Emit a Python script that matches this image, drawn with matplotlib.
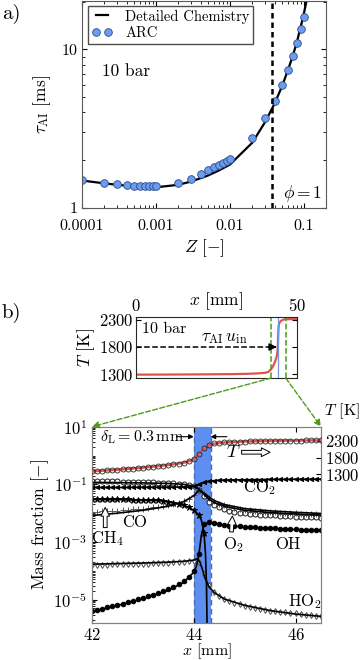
import numpy as np
import matplotlib
matplotlib.use("Agg")
import matplotlib.pyplot as plt
from matplotlib.patches import ConnectionPatch
from matplotlib.ticker import FixedLocator, NullFormatter, LogLocator

plt.rcParams["font.family"] = "serif"
plt.rcParams["font.serif"] = ["cmr10"]
plt.rcParams["mathtext.fontset"] = "cm"
plt.rcParams["axes.formatter.use_mathtext"] = True
plt.rcParams["axes.unicode_minus"] = False
plt.rcParams["font.size"] = 11.5
plt.rcParams["xtick.direction"] = "in"
plt.rcParams["ytick.direction"] = "in"

# ---- panel a: ignition delay vs mixture fraction ----
z_det = [1e-4, 2e-4, 3e-4, 5e-4, 1e-3, 2e-3, 3e-3, 5e-3, 7e-3, 1e-2,
         2e-2, 3e-2, 4e-2, 5e-2, 6e-2, 7e-2, 8e-2, 9e-2, 0.1, 0.11]
tau_det = [1.49, 1.43, 1.40, 1.37, 1.35, 1.40, 1.47, 1.60, 1.72, 1.88,
           2.58, 3.50, 4.55, 5.80, 7.30, 9.00, 11.1, 13.8, 17.0, 21.0]
z_arc = [1e-4, 2e-4, 3e-4, 4e-4, 5e-4, 6e-4, 7e-4, 8e-4, 9e-4, 1e-3,
         2e-3, 3e-3, 4e-3, 5e-3, 6e-3, 7e-3, 8e-3, 9e-3, 1e-2,
         2e-2, 3e-2, 4e-2, 5e-2, 6e-2, 7e-2, 8e-2, 9e-2, 0.1]
tau_arc = [1.50, 1.44, 1.42, 1.40, 1.38, 1.38, 1.38, 1.38, 1.38, 1.38,
           1.44, 1.52, 1.64, 1.73, 1.81, 1.86, 1.92, 1.98, 2.03,
           2.76, 3.68, 4.71, 5.94, 7.38, 9.03, 10.9, 13.4, 15.9]
z_st = 0.037

# ---- panel b (top): temperature over whole domain ----
x_full = [0, 10, 20, 30, 35, 38, 40, 41, 42, 42.5, 43, 43.5, 43.8, 44.0,
          44.1, 44.2, 44.3, 44.5, 45, 46, 50]
T_full = [1288, 1290, 1293, 1298, 1304, 1312, 1322, 1335, 1390, 1440, 1500,
          1580, 1650, 1760, 1900, 2080, 2180, 2245, 2284, 2312, 2320]
x_ign = 43.7
x_flame = 44.2
zoom_lo, zoom_hi = 42.0, 46.5
band_lo, band_hi = 44.0, 44.33

# ---- panel b (bottom): detailed chemistry lines (log10 mass fraction) ----
x_det = [42.0, 42.5, 43.0, 43.5, 43.8, 44.0, 44.1, 44.2, 44.3, 44.4, 44.6,
         45.0, 45.5, 46.0, 46.5]
co_det = [-2.08, -2.0, -1.9, -1.76, -1.6, -1.4, -1.2, -1.3, -1.44, -1.56,
          -1.7, -1.84, -1.92, -1.97, -2.01]
o2_det = [-0.93, -0.94, -0.95, -0.97, -1.0, -1.06, -1.15, -1.35, -1.52,
          -1.63, -1.76, -1.9, -1.98, -2.03, -2.07]
co2_det = [-1.11, -1.11, -1.1, -1.1, -1.09, -1.07, -1.02, -0.94, -0.89,
           -0.87, -0.85, -0.84, -0.83, -0.825, -0.82]
x_ch4_det = [42.0, 42.5, 43.0, 43.3, 43.5, 43.7, 43.9, 44.0, 44.1, 44.15,
             44.2, 44.23, 44.25, 44.27]
ch4_det = [-1.52, -1.53, -1.54, -1.56, -1.6, -1.67, -1.8, -1.9, -2.06,
           -2.25, -2.65, -3.4, -4.5, -7.0]
x_oh_det = [42.0, 42.5, 43.0, 43.5, 43.8, 44.0, 44.05, 44.1, 44.15, 44.2,
            44.3, 44.4, 44.6, 45.0, 45.5, 46.0, 46.5]
oh_det = [-5.42, -5.2, -4.97, -4.68, -4.4, -4.05, -3.85, -3.45, -2.75, -2.4,
          -2.33, -2.36, -2.42, -2.48, -2.53, -2.57, -2.6]
x_ho2_det = [42.0, 42.5, 43.0, 43.5, 43.8, 44.0, 44.07, 44.12, 44.17, 44.22,
             44.3, 44.4, 44.6, 45.0, 45.5, 46.0, 46.5]
ho2_det = [-3.77, -3.75, -3.73, -3.70, -3.67, -3.63, -3.58, -3.7, -3.95,
           -4.25, -4.55, -4.75, -4.98, -5.2, -5.38, -5.5, -5.58]
x_T_det = [42.0, 42.5, 43.0, 43.5, 43.8, 43.95, 44.05, 44.12, 44.2, 44.3,
           44.4, 44.6, 45.0, 45.5, 46.0, 46.5]
T_det = [1390, 1440, 1500, 1580, 1650, 1715, 1820, 1940, 2070, 2170, 2220,
         2255, 2284, 2302, 2312, 2320]

# ---- ARC samples ----
x_arc = [42.0, 42.1, 42.2, 42.3, 42.4, 42.5, 42.6, 42.7, 42.8, 42.9,
         43.0, 43.1, 43.2, 43.3, 43.4, 43.5, 43.6, 43.7, 43.8, 43.9,
         44.0, 44.1, 44.2, 44.3, 44.4, 44.5, 44.6, 44.7, 44.8, 44.9,
         45.0, 45.1, 45.2, 45.3, 45.4, 45.5, 45.6, 45.7, 45.8, 45.9,
         46.0, 46.1, 46.2, 46.3, 46.4, 46.5]
T_arc = [1390, 1400, 1410, 1420, 1430, 1440, 1450, 1462, 1474, 1487,
         1500, 1515, 1530, 1545, 1562, 1580, 1600, 1622, 1648, 1690,
         1760, 1900, 2080, 2180, 2225, 2245, 2258, 2266, 2273, 2279,
         2284, 2288, 2292, 2296, 2299, 2302, 2304, 2306, 2308, 2310,
         2312, 2314, 2316, 2318, 2319, 2320]
o2_arc = [-0.89, -0.89, -0.89, -0.90, -0.90, -0.90, -0.91, -0.91, -0.91, -0.92,
          -0.92, -0.93, -0.93, -0.94, -0.95, -0.96, -0.97, -0.98, -1.00, -1.03,
          -1.07, -1.20, -1.42, -1.60, -1.72, -1.80, -1.86, -1.91, -1.95, -1.98,
          -2.00, -2.02, -2.04, -2.05, -2.06, -2.07, -2.08, -2.09, -2.10, -2.11,
          -2.12, -2.13, -2.14, -2.14, -2.15, -2.16]
co2_arc = [-1.10, -1.10, -1.10, -1.10, -1.10, -1.10, -1.10, -1.09, -1.09, -1.09,
           -1.09, -1.09, -1.09, -1.09, -1.09, -1.08, -1.08, -1.08, -1.08, -1.08,
           -1.06, -1.00, -0.93, -0.89, -0.87, -0.86, -0.855, -0.85, -0.85, -0.845,
           -0.84, -0.84, -0.84, -0.835, -0.835, -0.83, -0.83, -0.83, -0.83, -0.825,
           -0.825, -0.825, -0.82, -0.82, -0.82, -0.82]
co_arc = [-1.96, -1.95, -1.94, -1.93, -1.92, -1.91, -1.90, -1.88, -1.87, -1.86,
          -1.84, -1.82, -1.80, -1.78, -1.76, -1.73, -1.69, -1.64, -1.58, -1.50,
          -1.38, -1.22, -1.32, -1.47, -1.59, -1.67, -1.73, -1.78, -1.82, -1.85,
          -1.88, -1.90, -1.92, -1.94, -1.95, -1.96, -1.97, -1.98, -1.99, -2.00,
          -2.01, -2.02, -2.02, -2.03, -2.03, -2.04]
ch4_arc = [-1.50, -1.50, -1.50, -1.51, -1.51, -1.51, -1.52, -1.52, -1.53, -1.53,
           -1.54, -1.54, -1.55, -1.56, -1.58, -1.60, -1.63, -1.67, -1.72, -1.79,
           -1.88, -2.05, -2.70]
oh_arc = [-5.40, -5.36, -5.31, -5.27, -5.23, -5.18, -5.14, -5.09, -5.04, -4.99,
          -4.94, -4.89, -4.83, -4.77, -4.71, -4.64, -4.56, -4.47, -4.37, -4.22,
          -4.02, -3.40, -2.38, -2.32, -2.35, -2.38, -2.41, -2.43, -2.45, -2.46,
          -2.47, -2.48, -2.49, -2.50, -2.51, -2.52, -2.53, -2.54, -2.55, -2.55,
          -2.56, -2.57, -2.58, -2.58, -2.59, -2.60]
ho2_arc = [-3.80, -3.80, -3.79, -3.79, -3.78, -3.78, -3.77, -3.77, -3.76, -3.76,
           -3.75, -3.75, -3.74, -3.73, -3.73, -3.72, -3.71, -3.70, -3.69, -3.67,
           -3.66, -3.68, -4.10, -4.50, -4.75, -4.88, -4.98, -5.05, -5.11, -5.16,
           -5.21, -5.25, -5.29, -5.32, -5.35, -5.38, -5.40, -5.42, -5.44, -5.46,
           -5.48, -5.50, -5.52, -5.54, -5.56, -5.58]

red = "#e0534a"
blue_pt = "#6b9cf0"
green = "#4e9a1c"
band_c = "#5e8ff0"

fig = plt.figure(figsize=(3.6, 6.6), dpi=100)

# ================= panel a =================
ax_a = fig.add_axes([82 / 360, 1 - 208 / 660, 244 / 360, 207.5 / 660])
ax_a.plot(z_det, tau_det, color="k", lw=1.6, label="Detailed Chemistry")
ax_a.plot(z_arc, tau_arc, "o", ms=5.5, mfc=blue_pt, mec="#2b4c8c", mew=0.6,
          label="ARC")
ax_a.axvline(z_st, color="k", ls=(0, (2.2, 1.6)), lw=1.8)
ax_a.set_xscale("log")
ax_a.set_yscale("log")
ax_a.set_xlim(1e-4, 0.198)
ax_a.set_ylim(1, 20.3)
ax_a.xaxis.set_major_locator(FixedLocator([1e-4, 1e-3, 1e-2, 1e-1]))
ax_a.set_xticklabels(["0.0001", "0.001", "0.01", "0.1"])
ax_a.yaxis.set_major_locator(FixedLocator([1, 10]))
ax_a.set_yticklabels(["1", "10"])
ax_a.yaxis.set_minor_formatter(NullFormatter())
ax_a.xaxis.set_minor_formatter(NullFormatter())
ax_a.tick_params(which="both", top=True, right=True, labelsize=11.5)
ax_a.tick_params(axis="x", pad=8)
ax_a.set_xlabel(r"$Z$ [$-$]", fontsize=12.5, labelpad=3)
ax_a.set_ylabel(r"$\tau_{\rm AI}$ [ms]", fontsize=12.5, labelpad=6)
for s in ax_a.spines.values():
    s.set_color("0.35")
ax_a.text(1.87e-4, 7.3, "10 bar", fontsize=12.5, va="center")
ax_a.text(0.052, 1.24, r"$\phi = 1$", fontsize=12.5, va="center")
leg = ax_a.legend(loc="upper left", bbox_to_anchor=(0.025, 0.975),
                  borderaxespad=0, numpoints=2, fancybox=False,
                  edgecolor="0.3", framealpha=1, fontsize=10.5,
                  handlelength=1.4, handletextpad=0.9, borderpad=0.25,
                  labelspacing=0.2)
leg.get_frame().set_linewidth(1.0)

# ================= panel b top =================
ax_b1 = fig.add_axes([136 / 360, 1 - 378 / 660, 161 / 360, 61.3 / 660])
ax_b1.plot(x_full, T_full, color=red, lw=1.6)
ax_b1.axvline(zoom_lo, color=green, ls="--", lw=1.1)
ax_b1.axvline(zoom_hi, color=green, ls="--", lw=1.1)
ax_b1.axvline(x_flame, color="#6f9be8", lw=0.9)
ax_b1.plot([0, x_ign - 1.2], [1800, 1800], color="k", ls="--", lw=1.1)
ax_b1.annotate("", xy=(x_ign, 1800), xytext=(x_ign - 1.5, 1800),
               arrowprops=dict(arrowstyle="-|>", color="k", lw=1.0,
                               mutation_scale=11))
ax_b1.text(27.5, 1960, r"$\tau_{\rm AI}\,u_{\rm in}$", fontsize=12.5,
           ha="center", va="center")
ax_b1.text(2.0, 2130, "10 bar", fontsize=11.5, va="center")
ax_b1.set_xlim(0, 50)
ax_b1.set_ylim(1226, 2361)
ax_b1.xaxis.tick_top()
ax_b1.xaxis.set_label_position("top")
ax_b1.set_xticks([0, 50])
ax_b1.set_yticks([1300, 1800, 2300])
ax_b1.tick_params(labelsize=12, right=True, pad=2)
ax_b1.set_xlabel(r"$x$ [mm]", fontsize=12.5, labelpad=-6)
ax_b1.set_ylabel(r"$T$ [K]", fontsize=12.5, labelpad=1)
for s in ax_b1.spines.values():
    s.set_color("0.15")

# ================= panel b bottom =================
ax_b2 = fig.add_axes([92 / 360, 1 - 622.7 / 660, 229 / 360, 196 / 660])
ax_b2.axvspan(band_lo, band_hi, color=band_c, lw=0, zorder=0)
for xb in (band_lo, band_hi):
    ax_b2.axvline(xb, color="#4d6aa8", ls=(0, (4, 2.5)), lw=1.0, zorder=0.5)

mk = dict(lw=0, mew=0.7)
ax_b2.plot(x_det, 10 ** np.array(o2_det), color="k", lw=1.2, zorder=3)
ax_b2.plot(x_arc, 10 ** np.array(o2_arc), "o", ms=3.6, mfc="white", mec="0.1",
           zorder=2, **mk)
ax_b2.plot(x_det, 10 ** np.array(co2_det), color="k", lw=1.2, zorder=3)
ax_b2.plot(x_arc, 10 ** np.array(co2_arc), "<", ms=3.0, color="k", zorder=2, **mk)
ax_b2.plot(x_det, 10 ** np.array(co_det), color="k", lw=1.2, zorder=3)
ax_b2.plot(x_arc, 10 ** np.array(co_arc), "+", ms=4.5, color="0.35", zorder=2,
           **mk)
ax_b2.plot(x_ch4_det, 10 ** np.array(ch4_det), color="k", lw=1.2, zorder=3)
ax_b2.plot(x_arc[:len(ch4_arc)], 10 ** np.array(ch4_arc), "*", ms=4.5, color="k",
           zorder=2, **mk)
ax_b2.plot(x_oh_det, 10 ** np.array(oh_det), color="k", lw=1.2, zorder=3)
ax_b2.plot(x_arc, 10 ** np.array(oh_arc), "o", ms=3.3, color="k", zorder=2, **mk)
ax_b2.plot(x_ho2_det, 10 ** np.array(ho2_det), color="k", lw=1.2, zorder=3)
ax_b2.plot(x_arc, 10 ** np.array(ho2_arc), "d", ms=3.0, mfc="white", mec="0.3",
           zorder=2, **mk)

ax_b2.set_xlim(zoom_lo, zoom_hi)
ax_b2.set_yscale("log")
ax_b2.set_ylim(10 ** -5.8, 10)
ax_b2.yaxis.set_major_locator(FixedLocator([1e1, 1e-1, 1e-3, 1e-5]))
ax_b2.yaxis.set_minor_locator(LogLocator(base=10, subs=np.arange(1, 10),
                                         numticks=30))
ax_b2.yaxis.set_minor_formatter(NullFormatter())
ax_b2.set_xticks([42, 44, 46])
ax_b2.tick_params(which="both", top=True, labelsize=12)
ax_b2.tick_params(axis="x", pad=3)
ax_b2.set_xlabel(r"$x$ [mm]", fontsize=11.5, labelpad=-1)
ax_b2.set_ylabel("Mass fraction [$-$]", fontsize=12.5, labelpad=2)
for s in ax_b2.spines.values():
    s.set_color("0.5")

# temperature on the right axis
ax_t = ax_b2.twinx()
ax_t.plot(x_T_det, T_det, color=red, lw=1.8, zorder=3)
ax_t.plot(x_arc, T_arc, "o", ms=3.6, mfc="none", mec="0.15", mew=0.6, zorder=4)
ax_t.set_ylim(-3143, 2728)
ax_t.set_yticks([1300, 1800, 2300])
ax_t.tick_params(labelsize=12, direction="in", pad=3)
for s in ax_t.spines.values():
    s.set_color("0.5")
ax_t.text(1.012, 1.03, r"$T$ [K]", transform=ax_t.transAxes, fontsize=11.5,
          ha="left", va="bottom")

# annotations in the zoomed panel
ax_b2.text(42.15, 4.5, r"$\delta_{\rm L} = 0.3\,{\rm mm}$", fontsize=11.5,
           va="center", ha="left", zorder=5)
ax_b2.annotate("", xy=(band_lo, 4.5), xytext=(43.66, 4.5),
               arrowprops=dict(arrowstyle="-|>", color="k", lw=0.8,
                               mutation_scale=7, shrinkA=0, shrinkB=0))
ax_b2.annotate("", xy=(band_hi, 4.5), xytext=(44.65, 4.5),
               arrowprops=dict(arrowstyle="-|>", color="k", lw=0.8,
                               mutation_scale=7, shrinkA=0, shrinkB=0))
hollow = dict(arrowstyle="simple,head_length=0.7,head_width=0.7,tail_width=0.3",
              fc="white", ec="k", lw=0.7, mutation_scale=9, shrinkA=0, shrinkB=0)
ax_b2.text(44.78, 1.3, r"$T$", fontsize=13, ha="center", va="center")
ax_b2.annotate("", xy=(45.5, 1.3), xytext=(44.94, 1.3), arrowprops=hollow)
ax_b2.text(45.3, 10 ** -1.1, r"CO$_2$", fontsize=12, ha="center", va="center")
ax_b2.text(42.84, 10 ** -2.33, "CO", fontsize=12, ha="center", va="center")
ax_b2.text(42.3, 10 ** -2.88, r"CH$_4$", fontsize=12, ha="center", va="center")
ax_b2.annotate("", xy=(42.26, 10 ** -1.8), xytext=(42.26, 10 ** -2.5),
               arrowprops=hollow)
ax_b2.text(44.78, 10 ** -3.1, r"O$_2$", fontsize=12, ha="center", va="center")
ax_b2.annotate("", xy=(44.76, 10 ** -2.1), xytext=(44.74, 10 ** -2.65),
               arrowprops=hollow)
ax_b2.text(45.84, 10 ** -3.07, "OH", fontsize=12, ha="center", va="center")
ax_b2.text(46.18, 10 ** -5.08, r"HO$_2$", fontsize=12, ha="center", va="center")

# green connectors from the overview to the zoomed panel
for xz, corner in ((zoom_lo, (0, 1)), (zoom_hi, (1, 1))):
    con = ConnectionPatch(xyA=(xz, 1226), coordsA=ax_b1.transData,
                          xyB=corner, coordsB=ax_b2.transAxes,
                          arrowstyle="-|>", ls="--", color=green, lw=1.0,
                          mutation_scale=10, shrinkA=0, shrinkB=0)
    fig.add_artist(con)

fig.text(2 / 360, 1 - 14 / 660, "a)", fontsize=15, va="center")
fig.text(2 / 360, 1 - 313 / 660, "b)", fontsize=15, va="center")

fig.savefig("out.png", dpi=100)
